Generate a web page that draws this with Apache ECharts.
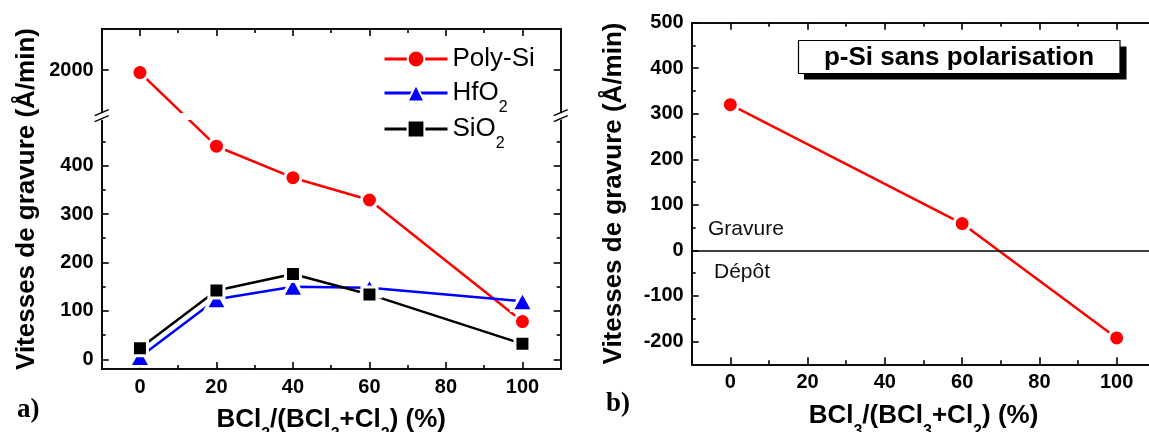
<!DOCTYPE html>
<html><head><meta charset="utf-8">
<script src="https://cdn.jsdelivr.net/npm/echarts@6/dist/echarts.min.js"></script>
<style>html,body{margin:0;padding:0;background:#fff}#c{width:1149px;height:432px}</style>
</head><body><div id="c"></div>
<script>
// ---------- data ----------
const ratioA = [0, 20, 40, 60, 100];
const polySi = [1995, 440, 375, 329, 78];
const hfo2 = [5, 124, 150, 148, 120];
const sio2 = [23, 142, 176, 134, 32];
const ratioB = [0, 60, 100];
const pSi = [320, 59, -192];

const xMajor = [0, 20, 40, 60, 80, 100];
const xMinor = [10, 30, 50, 70, 90];
const yMajorA = [0, 100, 200, 300, 400, 2000];
const yMinorA = [50, 150, 250, 350, 450];
const yMajorB = [-200, -100, 0, 100, 200, 300, 400, 500];
const yMinorB = [-150, -50, 50, 150, 250, 350, 450];
const yBreakA = [495, 1912];
const seriesNamesA = ['Poly-Si', 'HfO2', 'SiO2'];
const seriesNameB = 'p-Si';

// ---------- styles ----------
const FONT = '"Liberation Sans", Arial, Helvetica, sans-serif';
const SERIF = '"Liberation Serif", "Times New Roman", serif';
const RED = '#ff0000', BLUE = '#0000ff', BLACK = '#000000';

const zip = (xs, ys) => xs.map((x, i) => [x, ys[i]]);
const subRich = (name, key, sub) => '{' + key + '|' + name.replace(/(\d+)/g, '}{' + sub + '|$1}{' + key + '|') + '}';

const richTitle = {
  b: {fontFamily: FONT, fontWeight: 'bold', fontSize: 26, color: '#000', lineHeight: 30, padding: [8, 0, 8, 0]},
  s: {fontFamily: FONT, fontWeight: 'bold', fontSize: 16, color: '#000', lineHeight: 16, padding: [30, 0, 0, 0]}
};
const richLegend = {
  n: {fontFamily: FONT, fontSize: 26, color: '#000', lineHeight: 30, padding: [8, 0, 8, 0]},
  s: {fontFamily: FONT, fontSize: 16, color: '#000', lineHeight: 16, padding: [30, 0, 0, 0]}
};
const xTitle = '{b|BCl}{s|3}{b|/(BCl}{s|3}{b|+Cl}{s|2}{b|) (%)}';
const yTitle = 'Vitesses de gravure (Å/min)';

function axis(grid, pos, min, max, ticks, len, labels, extra) {
  const a = {
    type: 'value', gridIndex: grid, position: pos, min: min, max: max,
    axisLine: {show: true, onZero: false, lineStyle: {color: '#000', width: 1.6}},
    axisTick: {show: true, inside: true, length: len, customValues: ticks, lineStyle: {color: '#000', width: 1.6}},
    axisLabel: labels ? {show: true, customValues: ticks, formatter: (v) => String(v), color: '#000', fontFamily: FONT, fontWeight: 'bold', fontSize: 20, margin: 8} : {show: false},
    splitLine: {show: false}, minorTick: {show: false}, minorSplitLine: {show: false},
    nameMoveOverlap: false,
    silent: true
  };
  return Object.assign(a, extra || {});
}
const breakCfg = () => ({
  breaks: [{start: yBreakA[0], end: yBreakA[1], gap: '2%'}],
  breakArea: {show: true, itemStyle: {color: '#fff', borderColor: '#fff', borderWidth: 0, opacity: 1}, zigzagAmplitude: 0}
});

const xAxes = [
  axis(0, 'bottom', -10, 110, xMajor, 7, true, {name: xTitle, nameLocation: 'middle', nameGap: 36, nameTextStyle: {rich: richTitle}}),
  axis(0, 'bottom', -10, 110, xMinor, 4, false),
  axis(0, 'top', -10, 110, xMajor, 7, false),
  axis(0, 'top', -10, 110, xMinor, 4, false),
  axis(1, 'bottom', -10, 110, xMajor, 7, true, {name: xTitle, nameLocation: 'middle', nameGap: 37, nameTextStyle: {rich: richTitle}}),
  axis(1, 'bottom', -10, 110, xMinor, 4, false),
  axis(1, 'top', -10, 110, xMajor, 7, false),
  axis(1, 'top', -10, 110, xMinor, 4, false)
];
const yNameStyle = {fontFamily: FONT, fontWeight: 'bold', fontSize: 26, color: '#000'};
const yAxes = [
  axis(0, 'left', -20, 2085, yMajorA, 7, true, Object.assign({name: yTitle, nameLocation: 'middle', nameGap: 62, nameTextStyle: yNameStyle}, breakCfg())),
  axis(0, 'left', -20, 2085, yMinorA, 4, false, breakCfg()),
  axis(0, 'right', -20, 2085, yMajorA, 7, false, breakCfg()),
  axis(0, 'right', -20, 2085, yMinorA, 4, false, breakCfg()),
  axis(1, 'left', -250, 500, yMajorB, 7, true, {name: yTitle, nameLocation: 'middle', nameGap: 65, nameTextStyle: yNameStyle}),
  axis(1, 'left', -250, 500, yMinorB, 4, false)
];

function lineSeries(name, xi, yi, data, color, symbol, size) {
  return {
    name: name, type: 'line', xAxisIndex: xi, yAxisIndex: yi, data: data,
    symbol: symbol, symbolSize: size, showSymbol: true,
    lineStyle: {color: color, width: 2.5},
    itemStyle: {color: color, borderColor: '#fff', borderWidth: 3},
    emphasis: {disabled: true}, silent: true, animation: false
  };
}

const chart = echarts.init(document.getElementById('c'), null, {renderer: 'canvas'});
const option = {
  animation: false,
  backgroundColor: '#fff',
  grid: [
    {left: 101.7, top: 29, right: 588.3, bottom: 63, outerBoundsMode: 'none', containLabel: false},
    {left: 691.7, top: 22.7, right: -6.3, bottom: 67.7, outerBoundsMode: 'none', containLabel: false}
  ],
  xAxis: xAxes,
  yAxis: yAxes,
  legend: {
    data: seriesNamesA, orient: 'vertical', left: 383, top: 38, z: 300, padding: 0,
    itemWidth: 63, itemHeight: 21, itemGap: -10, selectedMode: false,
    lineStyle: {width: 3},
    formatter: (name) => subRich(name, 'n', 's'),
    textStyle: {rich: richLegend}
  },
  series: [
    lineSeries(seriesNamesA[0], 0, 0, zip(ratioA, polySi), RED, 'circle', 16),
    lineSeries(seriesNamesA[1], 0, 0, zip(ratioA, hfo2), BLUE, 'triangle', [21, 19]),
    lineSeries(seriesNamesA[2], 0, 0, zip(ratioA, sio2), BLACK, 'rect', 15),
    Object.assign(lineSeries(seriesNameB, 4, 4, zip(ratioB, pSi), RED, 'circle', 16), {
      markLine: {silent: true, symbol: 'none', animation: false, label: {show: false},
        lineStyle: {color: '#000', type: 'solid', width: 1.6}, data: [{yAxis: 0}]}
    })
  ],
  graphic: [
    {type: 'text', left: 17, top: 397, style: {text: 'a)', font: 'bold 27px ' + SERIF, fill: '#000'}},
    {type: 'text', left: 606, top: 391, style: {text: 'b)', font: 'bold 27px ' + SERIF, fill: '#000'}},
    {type: 'text', left: 708, top: 219, style: {text: 'Gravure', font: '21px ' + FONT, fill: '#111'}},
    {type: 'text', left: 714, top: 262, style: {text: 'Dépôt', font: '21px ' + FONT, fill: '#111'}},
    {type: 'rect', shape: {x: 804, y: 46.5, width: 322.5, height: 33}, style: {fill: '#000'}},
    {type: 'rect', shape: {x: 798.5, y: 40.5, width: 321.5, height: 33}, style: {fill: '#fff', stroke: '#000', lineWidth: 1.2}},
    {type: 'text', x: 959, y: 57.5, style: {text: 'p-Si sans polarisation', font: 'bold 26px ' + FONT, fill: '#000', align: 'center', verticalAlign: 'middle'}}
  ]
};
chart.setOption(option);

// axis-break "//" marks on both vertical axes of panel a
const p1 = chart.convertToPixel({yAxisIndex: 0}, yBreakA[0]);
const p2 = chart.convertToPixel({yAxisIndex: 0}, yBreakA[1]);
const yb = (p1 + p2) / 2;
const xl = chart.convertToPixel({xAxisIndex: 0}, -10);
const xr = chart.convertToPixel({xAxisIndex: 0}, 110);
const marks = [];
[xl, xr].forEach((x, i) => {
  marks.push({type: 'rect', id: 'gap' + i, shape: {x: x - 2, y: yb - 3, width: 4, height: 6}, style: {fill: '#fff'}, z: 100});
  marks.push({type: 'line', id: 'la' + i, shape: {x1: x - 7, y1: yb - 0.5, x2: x + 7, y2: yb - 6.5}, style: {stroke: '#000', lineWidth: 1.4}, z: 101});
  marks.push({type: 'line', id: 'lb' + i, shape: {x1: x - 7, y1: yb + 5.5, x2: x + 7, y2: yb - 0.5}, style: {stroke: '#000', lineWidth: 1.4}, z: 101});
});
chart.setOption({graphic: option.graphic.concat(marks)});
</script>
</body></html>
